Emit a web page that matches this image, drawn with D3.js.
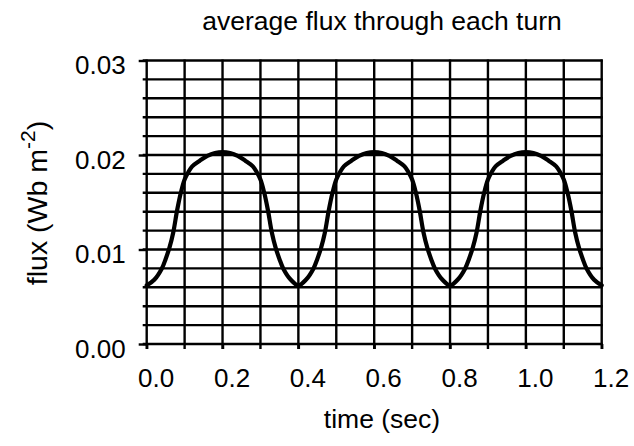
<!DOCTYPE html>
<html><head><meta charset="utf-8">
<script src="https://cdn.jsdelivr.net/npm/d3@7"></script>
<style>
body{margin:0;background:#fff}
text{font-family:"Liberation Sans",Arial,Helvetica,sans-serif;fill:#000}
</style>
</head><body>
<svg id="chart" width="634" height="446"></svg>
<script>
// ---- data ----
const timeSec = [
  0.00,0.02,0.04,0.05,0.06,0.07,0.08,0.09,0.10,0.11,0.12,0.14,0.16,0.18,0.20,0.22,0.24,0.26,0.28,0.29,0.30,0.31,0.32,0.33,0.34,0.35,0.36,0.38,
  0.40,0.42,0.44,0.45,0.46,0.47,0.48,0.49,0.50,0.51,0.52,0.54,0.56,0.58,0.60,0.62,0.64,0.66,0.68,0.69,0.70,0.71,0.72,0.73,0.74,0.75,0.76,0.78,
  0.80,0.82,0.84,0.85,0.86,0.87,0.88,0.89,0.90,0.91,0.92,0.94,0.96,0.98,1.00,1.02,1.04,1.06,1.08,1.09,1.10,1.11,1.12,1.13,1.14,1.15,1.16,1.18,
  1.20
];
const flux = [
  0.0062,0.0068,0.0080,0.0090,0.0102,0.0118,0.0141,0.0160,0.0174,0.0182,0.0188,0.0194,0.0199,0.0202,0.0203,0.0202,0.0199,0.0194,0.0188,0.0182,0.0174,0.0160,0.0141,0.0118,0.0102,0.0090,0.0080,0.0068,
  0.0062,0.0068,0.0080,0.0090,0.0102,0.0118,0.0141,0.0160,0.0174,0.0182,0.0188,0.0194,0.0199,0.0202,0.0203,0.0202,0.0199,0.0194,0.0188,0.0182,0.0174,0.0160,0.0141,0.0118,0.0102,0.0090,0.0080,0.0068,
  0.0062,0.0068,0.0080,0.0090,0.0102,0.0118,0.0141,0.0160,0.0174,0.0182,0.0188,0.0194,0.0199,0.0202,0.0203,0.0202,0.0199,0.0194,0.0188,0.0182,0.0174,0.0160,0.0141,0.0118,0.0102,0.0090,0.0080,0.0068,
  0.0062
];
const xTickValues = [0.0,0.2,0.4,0.6,0.8,1.0,1.2];
const xTickLabels = ["0.0","0.2","0.4","0.6","0.8","1.0","1.2"];
const xGridValues = [0.0,0.1,0.2,0.3,0.4,0.5,0.6,0.7,0.8,0.9,1.0,1.1,1.2];
const yTickValues = [0.00,0.01,0.02,0.03];
const yTickLabels = ["0.00","0.01","0.02","0.03"];
const yGridValues = [0.000,0.002,0.004,0.006,0.008,0.010,0.012,0.014,0.016,0.018,0.020,0.022,0.024,0.026,0.028,0.030];
const titleText = "average flux through each turn";
const xAxisTitle = "time (sec)";

// ---- layout ----
const svg = d3.select("#chart");
const mLeft = 146.7, mRight = 601.7, mTop = 60.5, mBottom = 344;
const x = d3.scaleLinear().domain([0, 1.2]).range([mLeft, mRight]);
const y = d3.scaleLinear().domain([0, 0.03]).range([mBottom, mTop]);
const gridW = 2.4;

// vertical grid lines (extend below the axis as ticks)
svg.append("g").selectAll("line").data(xGridValues).join("line")
  .attr("x1", d => x(d)).attr("x2", d => x(d))
  .attr("y1", y(0.03) - 1).attr("y2", y(0) + 5)
  .attr("stroke", "#000").attr("stroke-width", gridW);

// horizontal grid lines (extend left of axis as ticks)
svg.append("g").selectAll("line").data(yGridValues).join("line")
  .attr("x1", x(0) - 4).attr("x2", x(1.2) + 1)
  .attr("y1", d => y(d)).attr("y2", d => y(d))
  .attr("stroke", "#000").attr("stroke-width", gridW);

// y axis with longer major ticks
const yAxis = d3.axisLeft(y).tickValues(yTickValues)
  .tickFormat((d, i) => yTickLabels[i]).tickSize(8).tickPadding(13);
const gy = svg.append("g").attr("transform", `translate(${mLeft},0)`).call(yAxis);
gy.selectAll(".tick line").attr("stroke", "#000").attr("stroke-width", gridW);
gy.selectAll(".tick text").attr("font-size", 26).attr("dy", "0.5em")
  .style("font-family", '"Liberation Sans", Arial, sans-serif');

// x axis
const xAxis = d3.axisBottom(x).tickValues(xTickValues)
  .tickFormat((d, i) => xTickLabels[i]).tickSize(5).tickPadding(20);
const gx = svg.append("g").attr("transform", `translate(0,${mBottom})`).call(xAxis);
gx.selectAll(".tick line").attr("stroke", "#000").attr("stroke-width", gridW);
gx.selectAll(".tick text").attr("font-size", 26).attr("dx", 9)
  .style("font-family", '"Liberation Sans", Arial, sans-serif');
svg.selectAll(".domain").attr("stroke", "none");

// curve
const line = d3.line()
  .x((d, i) => x(timeSec[i]))
  .y(d => y(d))
  .curve(d3.curveCatmullRom.alpha(0.5));
svg.append("path").datum(flux)
  .attr("d", line)
  .attr("fill", "none").attr("stroke", "#000")
  .attr("stroke-width", 4.2).attr("stroke-linejoin", "round").attr("stroke-linecap", "round");

// title
svg.append("text").attr("x", 382).attr("y", 30)
  .attr("text-anchor", "middle").attr("font-size", 26.5).text(titleText);

// x axis title
svg.append("text").attr("x", 382).attr("y", 428)
  .attr("text-anchor", "middle").attr("font-size", 26.5).text(xAxisTitle);

// y axis title
const yt = svg.append("text").attr("transform", "translate(47,203) rotate(-90)")
  .attr("text-anchor", "middle").attr("font-size", 28.5);
yt.append("tspan").text("flux (Wb m");
yt.append("tspan").attr("font-size", 21).attr("dy", -12).text("-2");
yt.append("tspan").attr("dy", 12).text(")");
</script>
</body></html>
